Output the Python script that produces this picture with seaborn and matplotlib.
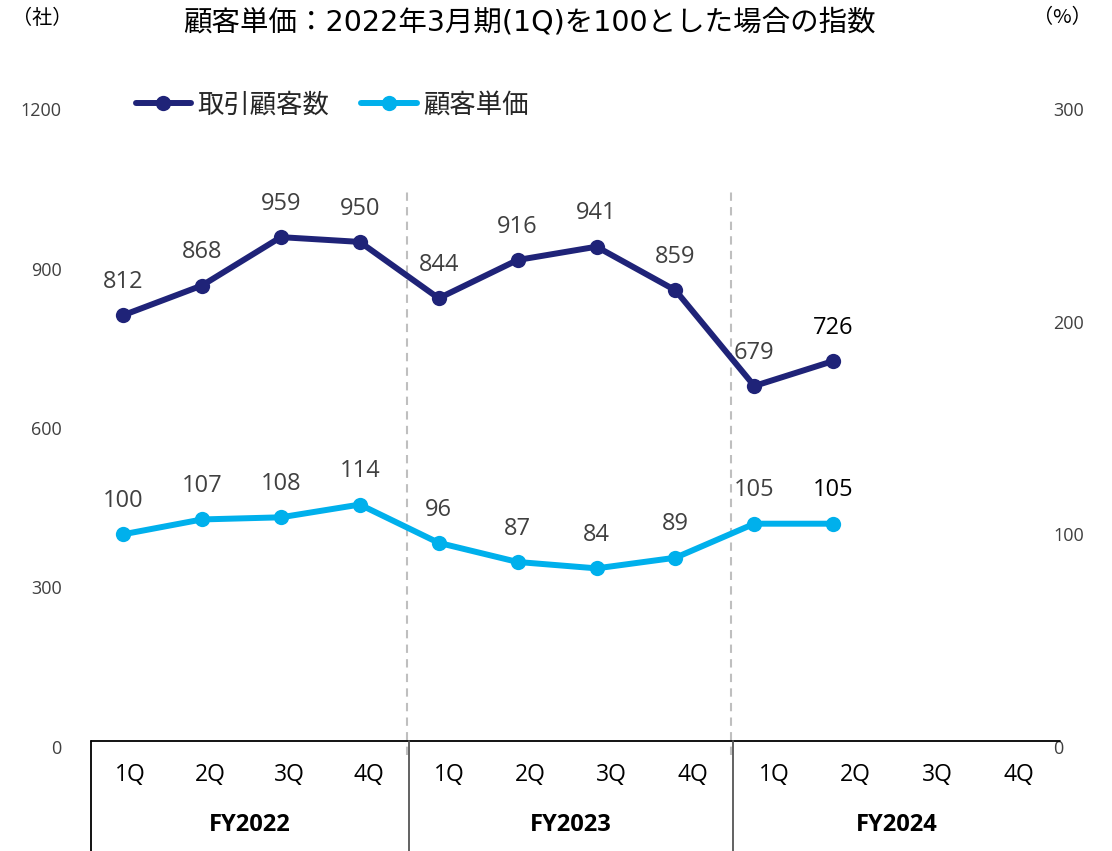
import matplotlib
matplotlib.use("Agg")
import matplotlib.pyplot as plt
import seaborn as sns
import pandas as pd

# ---------------------------------------------------------------------------
# data
# ---------------------------------------------------------------------------
fiscal_years = ["FY2022", "FY2023", "FY2024"]
quarters = ["1Q", "2Q", "3Q", "4Q"]
customers = [812, 868, 959, 950, 844, 916, 941, 859, 679, 726]      # 取引顧客数 (社)
unit_price_index = [100, 107, 108, 114, 96, 87, 84, 89, 105, 105]   # 顧客単価 (%)

title = "顧客単価：2022年3月期(1Q)を100とした場合の指数"
label_customers = "取引顧客数"
label_price = "顧客単価"

left_ticks = [0, 300, 600, 900, 1200]
right_ticks = [0, 100, 200, 300]

NAVY = "#1F2378"
CYAN = "#00B0EC"
GRAY_TXT = "#404040"
LATIN = ["Open Sans", "DejaVu Sans"]
WIDE = ["DejaVu Sans", "Noto Sans CJK JP"]

sns.set_theme(style="white")
plt.rcParams["font.family"] = ["Noto Sans CJK JP", "DejaVu Sans"]

W, H = 1112, 851
fig = plt.figure(figsize=(W / 100, H / 100), dpi=100)

# main plotting area (pixel layout of the reference)
ax = fig.add_axes([91 / W, (H - 747) / H, (1040 - 91) / W, 638 / H])
ax2 = ax.twinx()

df = pd.DataFrame({
    "pos": range(len(customers)),
    "customers": customers,
    "price": unit_price_index,
})

sns.lineplot(data=df, x="pos", y="customers", ax=ax, color=NAVY, lw=4.3,
             marker="o", markersize=11, markeredgewidth=0, label=label_customers,
             legend=False)
sns.lineplot(data=df, x="pos", y="price", ax=ax2, color=CYAN, lw=4.3,
             marker="o", markersize=11, markeredgewidth=0, label=label_price,
             legend=False)

ax.set_xlim(-0.406, 11.62)
ax.set_ylim(0, 1200)
ax2.set_ylim(0, 300)

# data labels
last = len(customers) - 1
for i, v in enumerate(customers):
    ax.annotate(str(v), (i, v), xytext=(0, 24), textcoords="offset points",
                ha="center", va="center", fontsize=17, family=LATIN,
                color="black" if i == last else GRAY_TXT)
for i, v in enumerate(unit_price_index):
    ax2.annotate(str(v), (i, v), xytext=(0, 24), textcoords="offset points",
                 ha="center", va="center", fontsize=17, family=LATIN,
                 color="black" if i == last else GRAY_TXT)

# fiscal year separators
for xs in (3.6, 7.71):
    ax.axvline(xs, ymin=-0.012, ymax=0.873, color="#BFBFBF", lw=1.5,
               ls=(0, (4, 3)), clip_on=False, zorder=0)

# axes styling
for a in (ax, ax2):
    for s in a.spines.values():
        s.set_visible(False)
    a.set_xlabel("")
    a.set_ylabel("")
    a.grid(False)
ax.set_xticks([])
ax.set_yticks(left_ticks)
ax.tick_params(axis="y", length=0, pad=21, labelsize=13, labelcolor=GRAY_TXT)
ax2.set_yticks(right_ticks)
ax2.tick_params(axis="y", length=0, pad=9.5, labelsize=13, labelcolor=GRAY_TXT)
for t in ax.get_yticklabels() + ax2.get_yticklabels():
    t.set_family(LATIN)

# legend
h1, l1 = ax.get_legend_handles_labels()
h2, l2 = ax2.get_legend_handles_labels()
fig.legend(h1 + h2, l1 + l2, loc="center left", bbox_to_anchor=(112 / W, 1 - 105 / H),
           ncol=2, frameon=False, fontsize=19, handlelength=2.1, handletextpad=0.25,
           columnspacing=1.2)

# titles / units
fig.text(529 / W, 1 - 23 / H, title, ha="center", va="center", fontsize=20.5,
         color="black", family=WIDE)
fig.text(42 / W, 1 - 18 / H, "（社）", ha="center", va="center", fontsize=14.5, color="black")
fig.text(1062 / W, 1 - 18 / H, "（%）", ha="center", va="center", fontsize=14.5, color="black")

# category table below the chart
axt = fig.add_axes([91 / W, 0, (1060 - 91) / W, 111 / H])
axt.set_xlim(91, 1060)
axt.set_ylim(851, 740)
axt.axis("off")
edges = [91, 409, 733, 1060]
axt.plot([91, 1060], [741, 741], color="black", lw=1.3, clip_on=False)
axt.plot([91.5, 91.5], [741, 851], color="black", lw=1.3, clip_on=False)
for xe in edges[1:3]:
    axt.plot([xe, xe], [741, 851], color="#555555", lw=1.3, clip_on=False)
for k, fy in enumerate(fiscal_years):
    x0, x1 = edges[k], edges[k + 1]
    step = (x1 - x0) / len(quarters)
    for j, q in enumerate(quarters):
        axt.text(x0 + step * (j + 0.5), 775, q, ha="center", va="center",
                 fontsize=16.5, color="black", family=LATIN)
    axt.text((x0 + x1) / 2, 825, fy, ha="center", va="center",
             fontsize=17, fontweight="bold", color="black", family=LATIN)

fig.savefig("out.png", dpi=100)
